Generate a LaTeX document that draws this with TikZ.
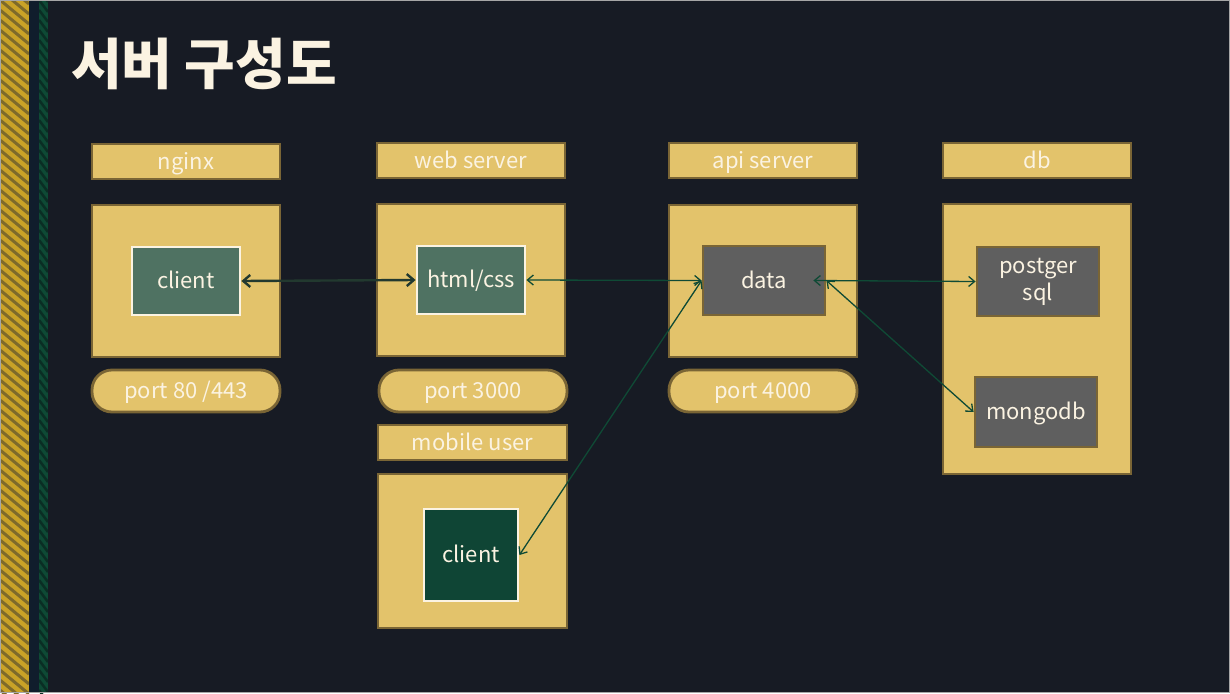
\documentclass[tikz,border=0pt]{standalone}
\usepackage{fontspec}
\setmainfont{Noto Sans CJK KR}
\usetikzlibrary{arrows.meta}
\definecolor{bg}{HTML}{171B24}
\definecolor{gold}{HTML}{E3C36B}
\definecolor{goldline}{HTML}{7A6535}
\definecolor{cream}{HTML}{FBF3E2}
\definecolor{sage}{HTML}{4F7262}
\definecolor{deepgreen}{HTML}{0F4535}
\definecolor{boxgray}{HTML}{5F5F5F}
\definecolor{arrowdark}{HTML}{22392F}
\definecolor{arrowgreen}{HTML}{0F4A35}
\definecolor{stripegold}{HTML}{C9A227}
\definecolor{stripegolddark}{HTML}{7E6A2A}
\definecolor{stripenavy}{HTML}{101D2C}
\definecolor{stripegreen}{HTML}{0E4A35}
\definecolor{stripegreendark}{HTML}{0A2E24}
\tikzset{
  txt/.style={text=cream, font=\fontsize{22}{27}\selectfont, align=center, inner sep=0pt, text height=18pt, text depth=3pt},
  labelbox/.style={txt, draw=goldline, fill=gold, line width=2.8pt, minimum width=188pt, minimum height=35pt},
  bigbox/.style={draw=goldline, fill=gold, line width=2.8pt, minimum width=188pt},
  portbox/.style={txt, draw=goldline, fill=gold, line width=2.8pt, minimum width=188pt, minimum height=42pt, rounded corners=20pt},
  clientbox/.style={txt, draw=cream, fill=sage, line width=2.8pt},
  mclientbox/.style={txt, draw=cream, fill=deepgreen, line width=2.8pt},
  graybox/.style={txt, draw=goldline, fill=boxgray, line width=2.8pt, minimum width=122pt},
  thicklink/.style={draw=arrowdark, line width=2.4pt, {Straight Barb[length=7pt,width=12pt]}-{Straight Barb[length=7pt,width=12pt]}},
  thinlink/.style={draw=arrowgreen, line width=1.3pt, {Straight Barb[length=6pt,width=10pt]}-{Straight Barb[length=6pt,width=10pt]}},
}
\begin{document}
\begin{tikzpicture}[x=1pt,y=-1pt]
\useasboundingbox (0,0) rectangle (1230,693);
\fill[bg] (0,0) rectangle (1230,693);
% left stripes
\fill[stripegold] (0,0) rectangle (29,693);
\begin{scope}
\clip (0,0) rectangle (29,693);
\foreach \i in {-40,-30,...,720} {
  \draw[stripegolddark, line width=3pt] (0,\i) -- (29,\i+24);
}
\end{scope}
\fill[stripenavy] (29,0) rectangle (39,693);
\fill[stripegreen] (39,0) rectangle (48,693);
\begin{scope}
\clip (39,0) rectangle (48,693);
\foreach \i in {-20,-10,...,720} {
  \draw[stripegreendark, line width=2.5pt] (39,\i) -- (48,\i+12);
}
\end{scope}
\draw[gray!70, line width=1pt] (0.5,0.5) rectangle (1229.5,692.5);
% title
\node[text=cream, font=\fontsize{55}{60}\selectfont\bfseries, anchor=west, inner sep=0pt] (title) at (71,64) {서버 구성도};
% nginx
\node[labelbox] (nginxL) at (186,161.5) {nginx};
\node[bigbox, minimum height=152pt] (nginxB) at (186,281) {};
\node[clientbox, minimum width=108pt, minimum height=68pt] (clientA) at (186,281) {client};
\node[portbox] (port80) at (186,391) {port 80 /443};
% web server
\node[labelbox] (webL) at (471,160.5) {web server};
\node[bigbox, minimum height=152pt] (webB) at (471,280) {};
\node[clientbox, minimum width=108pt, minimum height=68pt] (html) at (471,280) {html/css};
\node[portbox] (port3000) at (473,391) {port 3000};
% mobile user
\node[labelbox, minimum width=189pt] (mobL) at (472.5,442.5) {mobile user};
\node[bigbox, minimum width=189pt, minimum height=154pt] (mobB) at (472.5,551) {};
\node[mclientbox, minimum width=94pt, minimum height=92pt] (clientB) at (471,555) {client};
% api server
\node[labelbox] (apiL) at (763,160.5) {api server};
\node[bigbox, minimum height=152pt] (apiB) at (763,281) {};
\node[graybox, minimum height=69pt] (data) at (764,280.5) {data};
\node[portbox] (port4000) at (763,391) {port 4000};
% db
\node[labelbox] (dbL) at (1037,160.5) {db};
\node[bigbox, minimum height=270pt] (dbB) at (1037,339) {};
\node[graybox, minimum height=69pt, text height={}, text depth={}] (pg) at (1038,281.5) {postger\\sql};
\node[graybox, minimum height=70pt] (mongo) at (1036,412) {mongodb};
% links
\draw[thicklink] (clientA.east) -- (html.west);
\draw[thinlink] (html.east) -- (data.west);
\draw[thinlink] (data.west) -- (clientB.east);
\draw[thinlink] ([xshift=-13pt]data.east) -- (pg.west);
\draw[thinlink] (data.east) -- (mongo.west);
\end{tikzpicture}
\end{document}
